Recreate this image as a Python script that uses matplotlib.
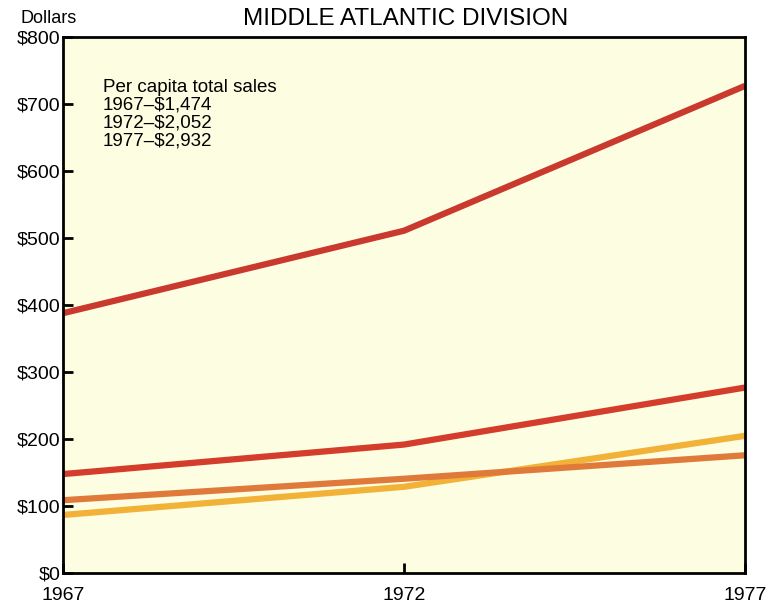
import matplotlib
matplotlib.use("Agg")
import matplotlib.pyplot as plt

plt.rcParams['font.family'] = ['Liberation Sans', 'DejaVu Sans']

years = [1967, 1972, 1977]
# four series, top to bottom
top_red = [388, 511, 727]
mid_red = [148, 192, 277]
orange = [109, 141, 176]
yellow = [87, 129, 205]

yticks = [0, 100, 200, 300, 400, 500, 600, 700, 800]
ylabels = ['$0', '$100', '$200', '$300', '$400', '$500', '$600', '$700', '$800']
note = ['Per capita total sales', '1967\u2013$1,474', '1972\u2013$2,052', '1977\u2013$2,932']

fig = plt.figure(figsize=(7.8, 6.06), dpi=100)
ax = fig.add_axes([0.081, 0.054, 0.874, 0.885])
ax.set_facecolor('#fdfde1')

ax.plot(years, yellow, color='#f2b237', lw=4.5, solid_capstyle='butt')
ax.plot(years, orange, color='#e07a3a', lw=4.5, solid_capstyle='butt')
ax.plot(years, mid_red, color='#d43c2b', lw=4.5, solid_capstyle='butt')
ax.plot(years, top_red, color='#c9392d', lw=4.5, solid_capstyle='butt')

ax.set_xlim(1967, 1977)
ax.set_ylim(0, 800)
ax.set_xticks(years)
ax.set_xticklabels([str(y) for y in years], fontsize=14)
ax.set_yticks(yticks)
ax.set_yticklabels(ylabels, fontsize=14)
ax.tick_params(direction='in', length=7, width=2, pad=2)
ax.tick_params(axis='x', pad=10)
for s in ax.spines.values():
    s.set_linewidth(2)

ax.text(0.058, 0.922, '\n'.join(note), transform=ax.transAxes, fontsize=13.5,
        va='top', ha='left', linespacing=1.07)

fig.text(0.52, 0.968, 'MIDDLE ATLANTIC DIVISION', ha='center', va='center', fontsize=17.5)
fig.text(0.026, 0.970, 'Dollars', ha='left', va='center', fontsize=13)

fig.savefig('out.png', dpi=100)
